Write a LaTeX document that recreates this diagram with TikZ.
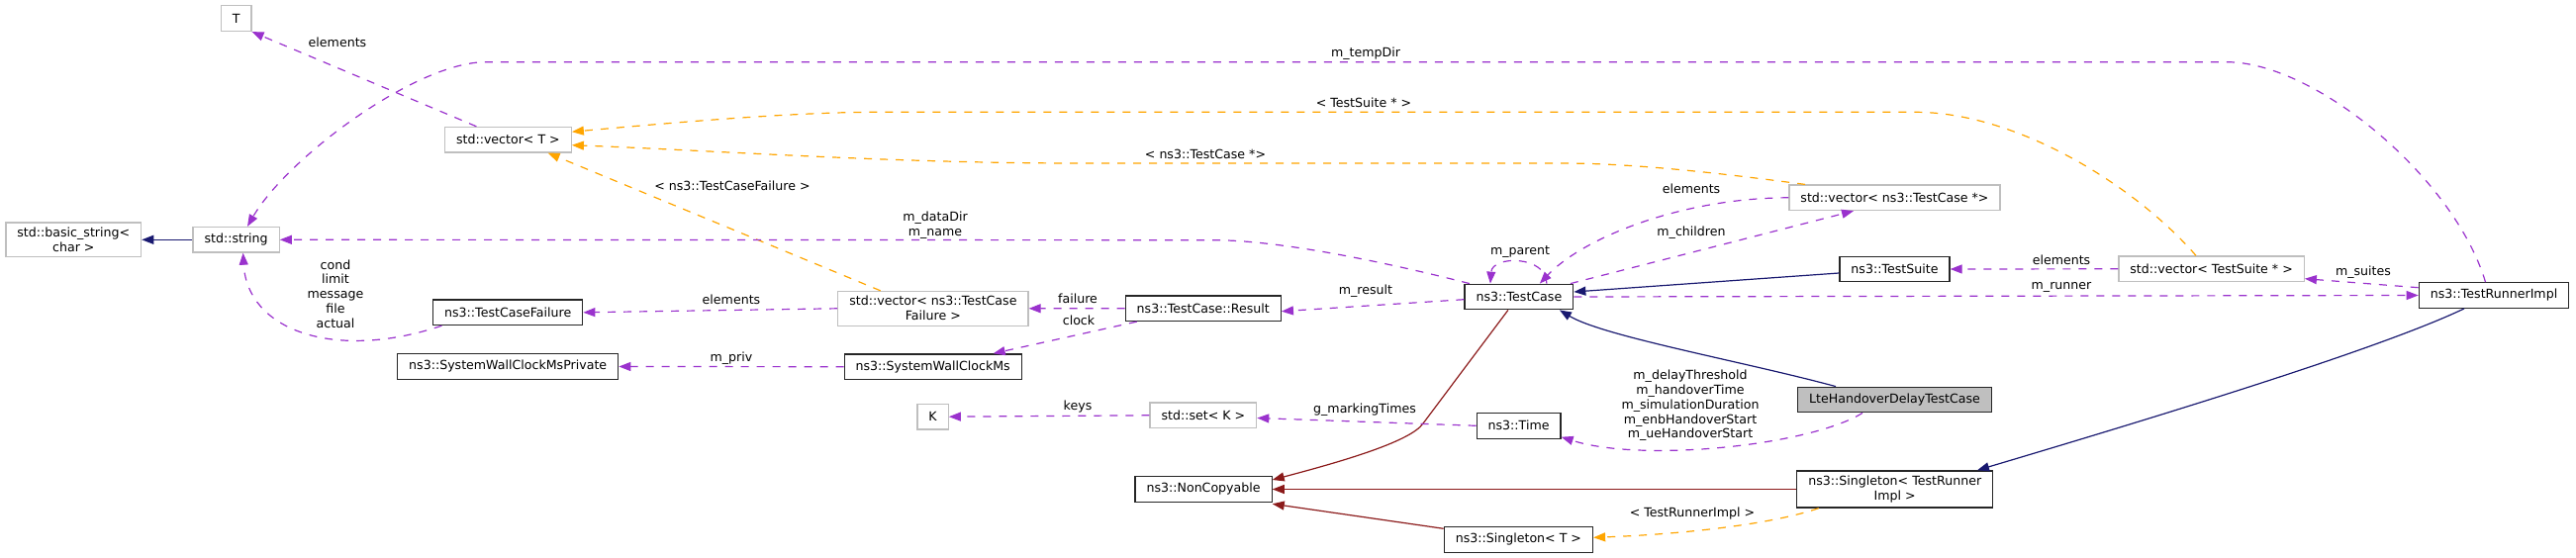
\documentclass[tikz,border=0pt]{standalone}
\usepackage{fontspec}
\setmainfont{DejaVu Sans}
\usetikzlibrary{arrows.meta}

\definecolor{usecol}{HTML}{9A32CD}
\definecolor{tmplcol}{HTML}{FFA500}
\definecolor{pubcol}{HTML}{191970}
\definecolor{privcol}{HTML}{8B1A1A}
\definecolor{boxgray}{HTML}{BFBFBF}

\tikzset{
	cls/.style={draw=black!85, fill=white, line width=1.2pt, font=\fontsize{12.6}{15}\selectfont,
		inner xsep=11.5pt, inner ysep=5pt, minimum height=25.6pt, align=center},
	extcls/.style={cls, draw=boxgray},
	maincls/.style={cls, fill=boxgray},
	lbl/.style={font=\fontsize{12.6}{14.8}\selectfont, inner sep=0pt, align=center},
	usage/.style={->, usecol, line width=1.2pt, dash pattern=on 8pt off 8pt},
	tmpl/.style={->, tmplcol, line width=1.2pt, dash pattern=on 8pt off 8pt},
	pubinh/.style={->, pubcol, line width=1.2pt},
	privinh/.style={->, privcol, line width=1.2pt}
}

\begin{document}
\begin{tikzpicture}[x=1pt,y=-1pt,>={Triangle[length=12pt,width=9pt]}]

	\useasboundingbox (0,0) rectangle (2603,564);

	% the classes, column by column
	\node[extcls] (bstr) at (74.3,242.3) {std::basic\_string<\\char >};
	\node[extcls] (tpar) at (238.6,18.7) {T};
	\node[extcls] (str) at (238.6,242.3) {std::string};
	\node[extcls] (vecT) at (513.4,141.2) {std::vector< T >};
	\node[cls] (tcf) at (513.2,315.8) {ns3::TestCaseFailure};
	\node[cls] (swcmp) at (513.2,370.5) {ns3::SystemWallClockMsPrivate};
	\node[extcls] (vectcf) at (942.9,311.8) {std::vector< ns3::TestCase\\Failure >};
	\node[cls] (swcm) at (942.7,370.7) {ns3::SystemWallClockMs};
	\node[extcls] (kpar) at (942.6,421.2) {K};
	\node[cls] (result) at (1215.8,311.7) {ns3::TestCase::Result};
	\node[extcls] (setk) at (1215.9,419.8) {std::set< K >};
	\node[cls] (noncopy) at (1216.1,494.5) {ns3::NonCopyable};
	\node[cls] (tcase) at (1534.9,300) {ns3::TestCase};
	\node[cls] (time) at (1534.6,430.3) {ns3::Time};
	\node[cls] (sglt) at (1534.4,545.3) {ns3::Singleton< T >};
	\node[extcls] (vectc) at (1914.5,199.8) {std::vector< ns3::TestCase *>};
	\node[cls] (suite) at (1914.5,272) {ns3::TestSuite};
	\node[maincls] (lte) at (1914.5,404) {LteHandoverDelayTestCase};
	\node[cls] (sgltri) at (1914.7,494.5) {ns3::Singleton< TestRunner\\Impl >};
	\node[extcls] (vects) at (2234.6,271.8) {std::vector< TestSuite * >};
	\node[cls] (runner) at (2520,298.5) {ns3::TestRunnerImpl};

	% inheritance
	\draw[pubinh] (str.west) -- (bstr.east);
	\draw[pubinh] ([yshift=-4pt]suite.west) -- ([yshift=5pt]tcase.east);
	\draw[pubinh] ([xshift=-59.5pt]lte.north) .. controls (1760,365) and (1620,340) .. ([xshift=41pt]tcase.south);
	\draw[pubinh] ([xshift=-30pt]runner.south) .. controls (2400,355) and (2150,430) .. ([xshift=83.3pt]sgltri.north);
	\draw[privinh] ([xshift=-11pt]tcase.south) -- (1438,428) .. controls (1425,447) and (1350,468) .. ([yshift=9.5pt]noncopy.east);
	\draw[privinh] (sgltri.west) -- (noncopy.east);
	\draw[privinh] ([yshift=11pt]sglt.west) -- ([yshift=-14.8pt]noncopy.east);

	% template instances
	\draw[tmpl] ([xshift=-15.6pt]vects.north) .. controls (2160,190) and (2040,113.3) .. (1935,113.3)
		-- (887,113.3) .. controls (800,113.3) and (680,124) .. ([yshift=8pt]vecT.east);
	\node[lbl] (lts) at (1378,104) {< TestSuite * >};
	\draw[tmpl] ([xshift=-90.5pt]vectc.north) .. controls (1760,178) and (1660,165) .. (1578,165)
		-- (1090,165) .. controls (900,165) and (720,152) .. ([yshift=-5.5pt]vecT.east);
	\node[lbl] (ltc) at (1218,156) {< ns3::TestCase *>};
	\draw[tmpl] ([xshift=-53.2pt]vectcf.north) -- ([xshift=40.2pt]vecT.south);
	\node[lbl] (ltcf) at (740,188) {< ns3::TestCaseFailure >};
	\draw[tmpl] ([xshift=-77pt]sgltri.south) .. controls (1790,530) and (1700,540) .. ([yshift=2pt]sglt.east);
	\node[lbl] (ltri) at (1710,519) {< TestRunnerImpl >};

	% members
	\draw[usage] ([xshift=-32pt]vecT.north) -- (tpar.south east);
	\node[lbl] (lelT) at (341,43) {elements};
	\draw[usage] ([xshift=-8.5pt]runner.north) .. controls (2480,180) and (2340,62.7) .. (2250,62.7)
		-- (491,62.7) .. controls (420,62.7) and (290,160) .. ([xshift=11.4pt]str.north);
	\node[lbl] (ltmp) at (1380,54) {m\_tempDir};
	\draw[usage] ([xshift=-50pt]tcase.north) .. controls (1420,270) and (1300,242.7) .. (1226,242.7) -- (str.east);
	\node[lbl] (ldir) at (945,228) {m\_dataDir\\m\_name};
	\draw[usage] ([xshift=-66.8pt]tcf.south) .. controls (340,365) and (250,335) .. ([xshift=7pt]str.south);
	\node[lbl] (lcond) at (339,297) {cond\\limit\\message\\file\\actual};
	\draw[usage] (vectcf.west) -- (tcf.east);
	\node[lbl] (lelf) at (739,303) {elements};
	\draw[usage] (result.west) -- (vectcf.east);
	\node[lbl] (lfail) at (1089,302) {failure};
	\draw[usage] ([xshift=-67pt]result.south) -- ([xshift=61pt]swcm.north);
	\node[lbl] (lclk) at (1090,324) {clock};
	\draw[usage] (swcm.west) -- (swcmp.east);
	\node[lbl] (lpriv) at (739,362) {m\_priv};
	\draw[usage] (setk.west) -- (kpar.east);
	\node[lbl] (lkeys) at (1089,411) {keys};
	\draw[usage] (time.west) -- ([yshift=-2.7pt]setk.east);
	\node[lbl] (lmark) at (1379,414) {g\_markingTimes};
	\draw[usage] ([yshift=-2.7pt]tcase.west) -- ([yshift=-3pt]result.east);
	\node[lbl] (lres) at (1380,294) {m\_result};
	\draw[usage] ([xshift=28pt]tcase.north) .. controls (1563,258) and (1508,258) .. ([xshift=-29pt]tcase.north);
	\node[lbl] (lpar) at (1536,255) {m\_parent};
	\draw[usage] (vectc.west) .. controls (1700,200) and (1600,240) .. ([xshift=21pt]tcase.north);
	\node[lbl] (lelc) at (1709,191) {elements};
	\draw[usage] ([xshift=52pt]tcase.north) -- ([xshift=-41.5pt]vectc.south);
	\node[lbl] (lchild) at (1709,235) {m\_children};
	\draw[usage] (vects.west) -- (suite.east);
	\node[lbl] (lels) at (2083,263) {elements};
	\draw[usage] (tcase.east) -- (runner.west);
	\node[lbl] (lrun) at (2083,290) {m\_runner};
	\draw[usage] ([yshift=7.8pt]runner.west) -- ([yshift=-9.9pt]vects.east);
	\node[lbl] (lsuit) at (2388,275) {m\_suites};
	\draw[usage] ([xshift=-32.5pt]lte.south) .. controls (1830,450) and (1660,468) .. ([yshift=-11.4pt]time.east);
	\node[lbl] (lhand) at (1708,410) {m\_delayThreshold\\m\_handoverTime\\m\_simulationDuration\\m\_enbHandoverStart\\m\_ueHandoverStart};

\end{tikzpicture}
\end{document}
